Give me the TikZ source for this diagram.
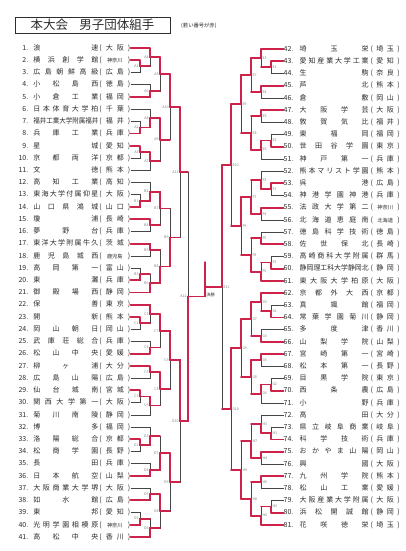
\documentclass[tikz,border=0pt]{standalone}
\usepackage{fontspec}
\setmainfont{Noto Sans CJK JP}
\usepackage{graphicx}
\usetikzlibrary{calc}
\pgfdeclarelayer{hi}
\pgfsetlayers{main,hi}
\definecolor{win}{RGB}{205,35,75}
\definecolor{ln}{RGB}{70,70,70}
\definecolor{tx}{RGB}{45,45,45}
\makeatletter
\newcommand\jsp[2]{\makebox[#1][s]{\def\jsep{}\@tfor\jch:=#2\do{\jsep\jch\def\jsep{\hfill}}}}
\makeatother
\newsavebox\jbox
\newcommand\jname[2]{\sbox\jbox{#2}\ifdim\wd\jbox>#1\relax\resizebox{#1}{\height}{\usebox\jbox}\else\jsp{#1}{#2}\fi}
\newcommand\smp[1]{{\fontsize{5.2}{5.2}\selectfont#1}}
\tikzset{
  ent/.style={inner sep=0pt, font=\fontsize{7}{8}\selectfont, text=tx},
  bk/.style={draw=ln, line width=0.5pt},
  rd/.style={draw=win, line width=1.8pt, line cap=round, line join=round},
  labl/.style={anchor=east, xshift=-1.3pt, inner sep=0pt, font=\fontsize{3.6}{4}\selectfont, text=gray},
  labr/.style={anchor=west, xshift=1.3pt, inner sep=0pt, font=\fontsize{3.6}{4}\selectfont, text=gray},
  labf/.style={anchor=west, xshift=1.2pt, yshift=-3.2pt, inner sep=0pt, font=\fontsize{4.2}{5}\selectfont, text=tx},
}
\newcommand\Le[3]{\node[ent, anchor=east] (L#1) at (130.5,{48+(#1-1)*12.225}) {\makebox[14pt][r]{#1.}\hspace{5pt}\jname{65pt}{#2}\hspace{1pt}\jsp{31pt}{(#3)}};}
\newcommand\Ri[3]{\node[ent, anchor=west] (R#1) at (283.5,{49+(#1-42)*12.2}) {\makebox[14pt][l]{#1.}\hspace{2pt}\jname{69pt}{#2}\hspace{2pt}\jsp{29pt}{(#3)}};}
% match: name, x, inputP, inputQ, winner(1/2/0), P is match, Q is match, label style, label
\newcommand\Mt[9]{%
  \path let \p1=(#3), \p2=(#4) in (#2pt,{0.5*\y1+0.5*\y2}) coordinate (#1);
  \draw[bk] (#3) -| (#1);
  \draw[bk] (#4) -| (#1);
  \begin{pgfonlayer}{hi}
  \ifnum#5=1 \draw[rd] (#3) -| (#1);\fi
  \ifnum#5=2 \draw[rd] (#4) -| (#1);\fi
  \ifnum#6=1 \draw[rd] (#3) -- (#3 -| #1);\fi
  \ifnum#7=1 \draw[rd] (#4) -- (#4 -| #1);\fi
  \end{pgfonlayer}
  \node[#8] (lab#1) at (#1) {#9};
}
\begin{document}
\begin{tikzpicture}[x=1pt,y=-1pt]
\fill[white] (0,0) rectangle (405,551);
\useasboundingbox (0,0) rectangle (405,551);
\node[draw=tx, line width=0.6pt, minimum width=155pt, minimum height=16pt, inner sep=0pt, font=\fontsize{12.5}{13}\selectfont, text=tx] (title) at (92.5,25) {本大会\hspace{0.9em}男子団体組手};
\node[anchor=west, inner sep=0pt, font=\fontsize{5.3}{6}\selectfont, text=tx] (note) at (181,25.5) {(若い番号が赤)};
% left entries
\Le{1}{浪速}{大阪}
\Le{2}{横浜創学館}{{\smp{神奈川}}}
\Le{3}{広島朝鮮高級}{広島}
\Le{4}{小松島西}{徳島}
\Le{5}{小倉工業}{福岡}
\Le{6}{日本体育大学柏}{千葉}
\Le{7}{福井工業大学附属福井}{福井}
\Le{8}{兵庫工業}{兵庫}
\Le{9}{星城}{愛知}
\Le{10}{京都両洋}{京都}
\Le{11}{文徳}{熊本}
\Le{12}{高知工業}{高知}
\Le{13}{東海大学付属仰星}{大阪}
\Le{14}{山口県鴻城}{山口}
\Le{15}{瓊浦}{長崎}
\Le{16}{夢野台}{兵庫}
\Le{17}{東洋大学附属牛久}{茨城}
\Le{18}{鹿児島城西}{{\smp{鹿児島}}}
\Le{19}{高岡第一}{富山}
\Le{20}{東灘}{兵庫}
\Le{21}{御殿場西}{静岡}
\Le{22}{保善}{東京}
\Le{23}{開新}{熊本}
\Le{24}{岡山朝日}{岡山}
\Le{25}{武庫荘総合}{兵庫}
\Le{26}{松山中央}{愛媛}
\Le{27}{柳ヶ浦}{大分}
\Le{28}{広島山陽}{広島}
\Le{29}{仙台城南}{宮城}
\Le{30}{関西大学第一}{大阪}
\Le{31}{菊川南陵}{静岡}
\Le{32}{博多}{福岡}
\Le{33}{洛陽総合}{京都}
\Le{34}{松商学園}{長野}
\Le{35}{長田}{兵庫}
\Le{36}{日本航空}{山梨}
\Le{37}{大阪商業大学堺}{大阪}
\Le{38}{如水館}{広島}
\Le{39}{東邦}{愛知}
\Le{40}{光明学園相模原}{{\smp{神奈川}}}
\Le{41}{高松中央}{香川}
% right entries
\Ri{42}{埼玉栄}{埼玉}
\Ri{43}{愛知産業大学工業}{愛知}
\Ri{44}{生駒}{奈良}
\Ri{45}{芦北}{熊本}
\Ri{46}{倉敷}{岡山}
\Ri{47}{大阪学芸}{大阪}
\Ri{48}{敦賀気比}{福井}
\Ri{49}{東福岡}{福岡}
\Ri{50}{世田谷学園}{東京}
\Ri{51}{神戸第一}{兵庫}
\Ri{52}{熊本マリスト学園}{熊本}
\Ri{53}{呉港}{広島}
\Ri{54}{神港学園神港}{兵庫}
\Ri{55}{法政大学第二}{{\smp{神奈川}}}
\Ri{56}{北海道恵庭南}{{\smp{北海道}}}
\Ri{57}{徳島科学技術}{徳島}
\Ri{58}{佐世保北}{長崎}
\Ri{59}{高崎商科大学附属}{群馬}
\Ri{60}{静岡理工科大学静岡北}{静岡}
\Ri{61}{東大阪大学柏原}{大阪}
\Ri{62}{京都外大西}{京都}
\Ri{63}{真颯館}{福岡}
\Ri{64}{常葉学園菊川}{静岡}
\Ri{65}{多度津}{香川}
\Ri{66}{山梨学院}{山梨}
\Ri{67}{宮崎第一}{宮崎}
\Ri{68}{松本第一}{長野}
\Ri{69}{目黒学院}{東京}
\Ri{70}{西条農}{広島}
\Ri{71}{小野}{兵庫}
\Ri{72}{高田}{大分}
\Ri{73}{県立岐阜商業}{岐阜}
\Ri{74}{科学技術}{兵庫}
\Ri{75}{おかやま山陽}{岡山}
\Ri{76}{興國}{大阪}
\Ri{77}{九州学院}{熊本}
\Ri{78}{松山工業}{愛媛}
\Ri{79}{大阪産業大学附属}{大阪}
\Ri{80}{浜松開誠館}{静岡}
\Ri{81}{花咲徳栄}{埼玉}
% ---- left bracket: A
\Mt{A1}{140}{L2.east}{L3.east}{1}{0}{0}{labl}{A1}
\Mt{A4}{150}{L1.east}{A1}{1}{0}{1}{labl}{A4}
\Mt{A6}{150}{L4.east}{L5.east}{2}{0}{0}{labl}{A6}
\Mt{A5}{160}{A4}{A6}{1}{1}{1}{labl}{A5}
\Mt{A2}{140}{L7.east}{L8.east}{2}{0}{0}{labl}{A2}
\Mt{A8}{150}{L6.east}{A2}{2}{0}{1}{labl}{A8}
\Mt{A3}{140}{L9.east}{L10.east}{1}{0}{0}{labl}{A3}
\Mt{A7}{150}{A3}{L11.east}{1}{1}{0}{labl}{A7}
\Mt{A9}{160}{A8}{A7}{1}{1}{1}{labl}{A9}
\Mt{A10}{170}{A5}{A9}{1}{1}{1}{labl}{A10}
% B
\Mt{B1}{140}{L13.east}{L14.east}{2}{0}{0}{labl}{B1}
\Mt{B2}{150}{L12.east}{B1}{2}{0}{1}{labl}{B2}
\Mt{B4}{150}{L15.east}{L16.east}{1}{0}{0}{labl}{B4}
\Mt{B7}{160}{B2}{B4}{1}{1}{1}{labl}{B7}
\Mt{B5}{150}{L17.east}{L18.east}{1}{0}{0}{labl}{B5}
\Mt{B3}{140}{L19.east}{L20.east}{2}{0}{0}{labl}{B3}
\Mt{B6}{150}{B3}{L21.east}{2}{1}{0}{labl}{B6}
\Mt{B8}{160}{B5}{B6}{2}{1}{1}{labl}{B8}
\Mt{B9}{170}{B7}{B8}{2}{1}{1}{labl}{B9}
\Mt{A11}{180}{A10}{B9}{1}{1}{1}{labl}{A11}
% C
\Mt{C1}{140}{L23.east}{L24.east}{1}{0}{0}{labl}{C1}
\Mt{C2}{150}{L22.east}{C1}{1}{0}{1}{labl}{C2}
\Mt{C4}{150}{L25.east}{L26.east}{2}{0}{0}{labl}{C4}
\Mt{C7}{160}{C2}{C4}{1}{1}{1}{labl}{C7}
\Mt{C5}{150}{L27.east}{L28.east}{1}{0}{0}{labl}{C5}
\Mt{C3}{140}{L29.east}{L30.east}{1}{0}{0}{labl}{C3}
\Mt{C6}{150}{C3}{L31.east}{1}{1}{0}{labl}{C6}
\Mt{C8}{160}{C5}{C6}{1}{1}{1}{labl}{C8}
\Mt{C9}{170}{C7}{C8}{1}{1}{1}{labl}{C9}
% D
\Mt{D1}{140}{L33.east}{L34.east}{1}{0}{0}{labl}{D1}
\Mt{D3}{150}{L32.east}{D1}{2}{0}{1}{labl}{D3}
\Mt{D4}{150}{L35.east}{L36.east}{2}{0}{0}{labl}{D4}
\Mt{D7}{160}{D3}{D4}{2}{1}{1}{labl}{D7}
\Mt{D5}{150}{L37.east}{L38.east}{2}{0}{0}{labl}{D5}
\Mt{D2}{140}{L39.east}{L40.east}{2}{0}{0}{labl}{D2}
\Mt{D6}{150}{D2}{L41.east}{2}{1}{0}{labl}{D6}
\Mt{D8}{160}{D5}{D6}{1}{1}{1}{labl}{D8}
\Mt{D9}{170}{D7}{D8}{1}{1}{1}{labl}{D9}
\Mt{D10}{180}{C9}{D9}{1}{1}{1}{labl}{D10}
\Mt{A12}{188}{A11}{D10}{2}{1}{1}{labl}{A12}
% ---- right bracket: E
\Mt{E1}{271}{R43.west}{R44.west}{1}{0}{0}{labr}{E1}
\Mt{E3}{261}{R42.west}{E1}{1}{0}{1}{labr}{E3}
\Mt{E4}{261}{R45.west}{R46.west}{1}{0}{0}{labr}{E4}
\Mt{E7}{251}{E3}{E4}{1}{1}{1}{labr}{E7}
\Mt{E5}{261}{R47.west}{R48.west}{1}{0}{0}{labr}{E5}
\Mt{E2}{271}{R49.west}{R50.west}{2}{0}{0}{labr}{E2}
\Mt{E6}{261}{E2}{R51.west}{1}{1}{0}{labr}{E6}
\Mt{E8}{251}{E5}{E6}{2}{1}{1}{labr}{E8}
\Mt{E9}{241}{E7}{E8}{1}{1}{1}{labr}{E9}
% F
\Mt{F1}{271}{R53.west}{R54.west}{1}{0}{0}{labr}{F1}
\Mt{F3}{261}{R52.west}{F1}{2}{0}{1}{labr}{F3}
\Mt{F4}{261}{R55.west}{R56.west}{1}{0}{0}{labr}{F4}
\Mt{F7}{251}{F3}{F4}{2}{1}{1}{labr}{F7}
\Mt{F5}{261}{R57.west}{R58.west}{2}{0}{0}{labr}{F5}
\Mt{F2}{271}{R59.west}{R60.west}{2}{0}{0}{labr}{F2}
\Mt{F6}{261}{F2}{R61.west}{2}{1}{0}{labr}{F6}
\Mt{F8}{251}{F5}{F6}{2}{1}{1}{labr}{F8}
\Mt{F9}{241}{F7}{F8}{1}{1}{1}{labr}{F9}
\Mt{E10}{231}{E9}{F9}{1}{1}{1}{labr}{E10}
% G
\Mt{G1}{271}{R63.west}{R64.west}{2}{0}{0}{labr}{G1}
\Mt{G3}{261}{R62.west}{G1}{1}{0}{1}{labr}{G3}
\Mt{G4}{261}{R65.west}{R66.west}{2}{0}{0}{labr}{G4}
\Mt{G7}{251}{G3}{G4}{1}{1}{1}{labr}{G7}
\Mt{G5}{261}{R67.west}{R68.west}{1}{0}{0}{labr}{G5}
\Mt{G2}{271}{R69.west}{R70.west}{2}{0}{0}{labr}{G2}
\Mt{G6}{261}{G2}{R71.west}{1}{1}{0}{labr}{G6}
\Mt{G8}{251}{G5}{G6}{1}{1}{1}{labr}{G8}
\Mt{G9}{241}{G7}{G8}{1}{1}{1}{labr}{G9}
% H
\Mt{H1}{271}{R73.west}{R74.west}{2}{0}{0}{labr}{H1}
\Mt{H3}{261}{R72.west}{H1}{2}{0}{1}{labr}{H3}
\Mt{H4}{261}{R75.west}{R76.west}{1}{0}{0}{labr}{H4}
\Mt{H7}{251}{H3}{H4}{2}{1}{1}{labr}{H7}
\Mt{H5}{261}{R77.west}{R78.west}{1}{0}{0}{labr}{H5}
\Mt{H2}{271}{R79.west}{R80.west}{2}{0}{0}{labr}{H2}
\Mt{H6}{261}{H2}{R81.west}{2}{1}{0}{labr}{H6}
\Mt{H8}{251}{H5}{H6}{2}{1}{1}{labr}{H8}
\Mt{H9}{241}{H7}{H8}{2}{1}{1}{labr}{H9}
\Mt{G10}{231}{G9}{H9}{1}{1}{1}{labr}{G10}
\Mt{E11}{222}{E10}{G10}{1}{1}{1}{labr}{E11}
% final
\Mt{FIN}{205}{A12}{E11}{1}{1}{1}{labf}{決勝}
\coordinate (CH) at (205,262);
\begin{pgfonlayer}{hi}
\draw[rd, line width=1.3pt] (FIN) -- (CH);
\end{pgfonlayer}
\end{tikzpicture}
\end{document}
